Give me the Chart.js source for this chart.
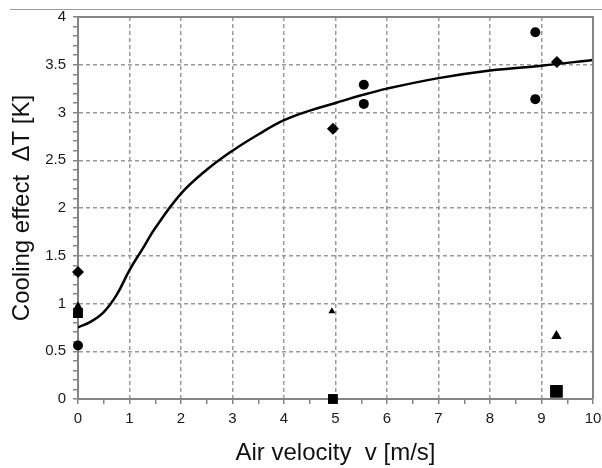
<!DOCTYPE html>
<html>
<head>
<meta charset="utf-8">
<script src="https://cdn.jsdelivr.net/npm/chart.js@4.4.0/dist/chart.umd.min.js"></script>
<style>
  html, body { margin: 0; padding: 0; background: #fff; }
  #wrap { width: 602px; height: 468px; }
</style>
</head>
<body>
<div id="wrap"><canvas id="coolingChart" width="602" height="468"></canvas></div>
<script>
// Cooling effect vs. air velocity

// fitted curve
const curveX = [0, 0.25, 0.5, 0.75, 1, 1.25, 1.5, 2, 2.5, 3, 3.5, 4, 4.5, 5, 5.5, 6, 7, 8, 9, 10];
const curveY = [0.75, 0.81, 0.91, 1.09, 1.35, 1.57, 1.79, 2.15, 2.4, 2.6, 2.77, 2.92, 3.02, 3.1, 3.18, 3.25, 3.36, 3.44, 3.49, 3.55];

// measured points, one pair of arrays per marker
const circleX = [0, 5.55, 5.55, 8.88, 8.88];
const circleY = [0.56, 3.29, 3.09, 3.84, 3.14];
const diamondX = [0, 4.95, 9.3];
const diamondY = [1.33, 2.83, 3.53];
const squareX = [0, 4.95, 9.29];
const squareY = [0.9, 0.0, 0.08];
const triangleX = [0, 4.93, 9.29];
const triangleY = [0.96, 0.92, 0.66];

// axis ticks
const xTickLabels = ['0', '1', '2', '3', '4', '5', '6', '7', '8', '9', '10'];
const yTickLabels = ['0', '0.5', '1', '1.5', '2', '2.5', '3', '3.5', '4'];

const toPoints = (xs, ys) => xs.map((x, i) => ({ x: x, y: ys[i] }));
const isStep = (v, step) => Math.abs(v / step - Math.round(v / step)) < 1e-6;

const AXIS = '#858585';
const GRID = '#9a9a9a';
const FONT = 'Liberation Sans, Arial, sans-serif';

// top/right frame plus the thin green rule above the plot
const framePlugin = {
  id: 'frame',
  afterDraw(chart) {
    const { ctx, chartArea: a } = chart;
    ctx.save();
    ctx.strokeStyle = AXIS;
    ctx.lineWidth = 2;
    ctx.beginPath();
    ctx.moveTo(a.left, a.top);
    ctx.lineTo(a.right, a.top);
    ctx.lineTo(a.right, a.bottom);
    ctx.stroke();
    ctx.strokeStyle = '#2ee82e';
    ctx.lineWidth = 1;
    ctx.beginPath();
    ctx.moveTo(10, 9.5);
    ctx.lineTo(602, 9.5);
    ctx.stroke();
    ctx.restore();
  }
};

const markerBase = {
  type: 'scatter',
  backgroundColor: '#000',
  borderColor: '#000',
  borderWidth: 0,
  clip: false
};

new Chart(document.getElementById('coolingChart').getContext('2d'), {
  type: 'scatter',
  data: {
    datasets: [
      {
        type: 'line',
        label: 'Fit',
        data: toPoints(curveX, curveY),
        borderColor: '#000',
        borderWidth: 2.5,
        pointRadius: 0,
        fill: false,
        tension: 0.4
      },
      Object.assign({}, markerBase, {
        label: 'Circle',
        data: toPoints(circleX, circleY),
        pointStyle: 'circle',
        pointRadius: 5
      }),
      Object.assign({}, markerBase, {
        label: 'Diamond',
        data: toPoints(diamondX, diamondY),
        pointStyle: 'rectRot',
        pointRadius: 6
      }),
      Object.assign({}, markerBase, {
        label: 'Square',
        data: toPoints(squareX, squareY),
        pointStyle: 'rect',
        pointRadius: [7, 7, 9]
      }),
      Object.assign({}, markerBase, {
        label: 'Triangle',
        data: toPoints(triangleX, triangleY),
        pointStyle: 'triangle',
        pointRadius: [6, 4, 6]
      })
    ]
  },
  options: {
    responsive: false,
    devicePixelRatio: 1,
    animation: false,
    layout: {
      padding: { top: 17, right: 6, left: 0, bottom: 0 }
    },
    plugins: {
      legend: { display: false },
      tooltip: { enabled: false }
    },
    scales: {
      x: {
        type: 'linear',
        min: 0,
        max: 10,
        afterFit(scale) {
          scale.height = 69;
          scale.paddingLeft = 0;
          scale.paddingRight = 0;
        },
        grid: {
          color: (c) => (c.tick && isStep(c.tick.value, 1) && c.tick.value > 0 && c.tick.value < 10) ? GRID : 'transparent',
          lineWidth: 1.5,
          tickColor: AXIS,
          tickLength: 5,
          tickWidth: 1.5
        },
        border: { color: AXIS, width: 2, dash: [4, 3] },
        ticks: {
          stepSize: 0.5,
          autoSkip: false,
          maxRotation: 0,
          padding: 6,
          color: '#1a1a1a',
          font: { family: FONT, size: 15 },
          callback: (v) => isStep(v, 1) ? xTickLabels[Math.round(v)] : ''
        },
        title: {
          display: true,
          text: 'Air velocity  v [m/s]',
          color: '#111',
          font: { family: FONT, size: 24 },
          padding: { top: 4, bottom: 0 }
        }
      },
      y: {
        type: 'linear',
        min: 0,
        max: 4,
        afterFit(scale) {
          scale.width = 78;
          scale.paddingTop = 0;
          scale.paddingBottom = 0;
        },
        grid: {
          color: (c) => (c.tick && isStep(c.tick.value, 0.5) && c.tick.value > 0 && c.tick.value < 4) ? GRID : 'transparent',
          lineWidth: 1.5,
          tickColor: AXIS,
          tickLength: 5,
          tickWidth: 1.5
        },
        border: { color: AXIS, width: 2, dash: [4, 3] },
        ticks: {
          stepSize: 0.1,
          autoSkip: false,
          padding: 7,
          color: '#1a1a1a',
          font: { family: FONT, size: 15 },
          callback: (v) => isStep(v, 0.5) ? yTickLabels[Math.round(v * 2)] : ''
        },
        title: {
          display: true,
          text: 'Cooling effect  \u0394T [K]',
          color: '#111',
          font: { family: FONT, size: 24 },
          padding: { top: 8, bottom: 0 }
        }
      }
    }
  },
  plugins: [framePlugin]
});
</script>
</body>
</html>
